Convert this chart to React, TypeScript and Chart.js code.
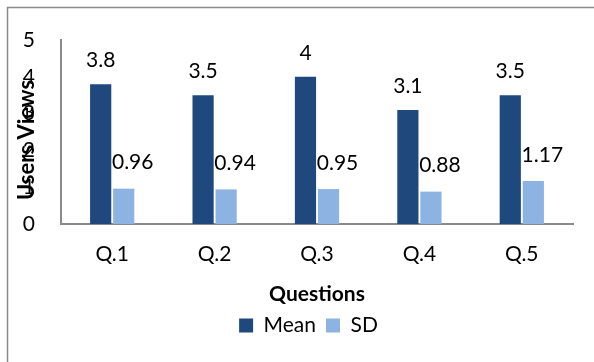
import { useEffect, useRef } from "react";
import { Chart, registerables } from "chart.js";

Chart.register(...registerables);

const categories = ["Q.1", "Q.2", "Q.3", "Q.4", "Q.5"];
const meanValues = [3.8, 3.5, 4, 3.1, 3.5];
const sdValues = [0.96, 0.94, 0.95, 0.88, 1.17];
const seriesNames = ["Mean", "SD"];
const yMin = 0;
const yMax = 5;
const yTitle = "Users Views";
const xTitle = "Questions";

const FONT = "Lato, 'Open Sans', sans-serif";
const MEAN_COLOR = "#1F497D";
const SD_COLOR = "#8DB3E2";

// Outer frame: top and left edges only; legend nudged toward the plot centre
const framePlugin = {
  id: "frame",
  beforeDraw(chart: any) {
    const { ctx, width, height } = chart;
    if (chart.legend && !chart.legend._shifted) {
      chart.legend.left += 22;
      chart.legend.right += 22;
      chart.legend._shifted = true;
    }
    ctx.save();
    ctx.fillStyle = "#ffffff";
    ctx.fillRect(0, 0, width, height);
    ctx.strokeStyle = "#8a8a8a";
    ctx.lineWidth = 1.5;
    ctx.beginPath();
    ctx.moveTo(7.5, height);
    ctx.lineTo(7.5, 7.5);
    ctx.lineTo(width, 7.5);
    ctx.stroke();
    ctx.restore();
  },
};

// Value labels above each bar
const valueLabelPlugin = {
  id: "valueLabels",
  afterDatasetsDraw(chart: any) {
    const { ctx } = chart;
    ctx.save();
    ctx.font = `21px ${FONT}`;
    ctx.fillStyle = "#000";
    ctx.textAlign = "center";
    ctx.textBaseline = "middle";
    chart.data.datasets.forEach((ds: any, di: number) => {
      const meta = chart.getDatasetMeta(di);
      meta.data.forEach((bar: any, i: number) => {
        const v = ds.data[i];
        const dx = di === 1 ? 9 : 0;
        const dy = di === 1 ? 26 : 24;
        ctx.fillText(String(v), bar.x + dx, bar.y - dy);
      });
    });
    ctx.restore();
  },
};

// Vertical axis title, drawn over the tick column
const yTitlePlugin = {
  id: "yTitle",
  afterDraw(chart: any) {
    const { ctx } = chart;
    ctx.save();
    ctx.font = `bold 22px ${FONT}`;
    ctx.fillStyle = "#000";
    ctx.textAlign = "center";
    ctx.textBaseline = "middle";
    ctx.translate(27, 140);
    ctx.rotate(-Math.PI / 2);
    ctx.fillText(yTitle, 0, 0);
    ctx.restore();
  },
};

export default function App() {
  const ref = useRef<HTMLCanvasElement | null>(null);

  useEffect(() => {
    if (!ref.current) return;
    const chart = new Chart(ref.current, {
      type: "bar",
      data: {
        labels: categories,
        datasets: [
          {
            label: seriesNames[0],
            data: meanValues,
            backgroundColor: MEAN_COLOR,
            categoryPercentage: 0.45,
            barPercentage: 0.92,
          },
          {
            label: seriesNames[1],
            data: sdValues,
            backgroundColor: SD_COLOR,
            categoryPercentage: 0.45,
            barPercentage: 0.92,
          },
        ],
      },
      options: {
        animation: false,
        responsive: false,
        layout: { padding: { left: 0, right: 21, top: 40, bottom: 16 } },
        plugins: {
          tooltip: { enabled: false },
          legend: {
            position: "bottom",
            labels: {
              font: { family: FONT, size: 21 },
              color: "#000",
              boxWidth: 14,
              boxHeight: 14,
              padding: 10,
            },
          },
        },
        scales: {
          x: {
            afterFit: (s: any) => {
              s.height = 81;
            },
            grid: { display: false, drawTicks: false },
            border: { display: true, color: "#8a8a8a", width: 2 },
            ticks: { font: { family: FONT, size: 21 }, color: "#000", padding: 18 },
            title: {
              display: true,
              text: xTitle,
              font: { family: FONT, size: 21, weight: "bold", lineHeight: 1 },
              color: "#000",
              padding: { top: 0, bottom: 0 },
            },
          },
          y: {
            min: yMin,
            max: yMax,
            afterFit: (s: any) => {
              s.width = 61;
            },
            grid: { display: false, drawTicks: false },
            border: { display: true, color: "#8a8a8a", width: 2 },
            ticks: {
              stepSize: 1,
              font: { family: FONT, size: 21 },
              color: "#000",
              padding: 26,
            },
          },
        },
      },
      plugins: [framePlugin, valueLabelPlugin, yTitlePlugin],
    });
    return () => chart.destroy();
  }, []);

  return (
    <div style={{ position: "fixed", left: 0, top: 0, width: 594, height: 362, background: "#fff" }}>
      <canvas ref={ref} width={594} height={362} style={{ display: "block" }} />
    </div>
  );
}
